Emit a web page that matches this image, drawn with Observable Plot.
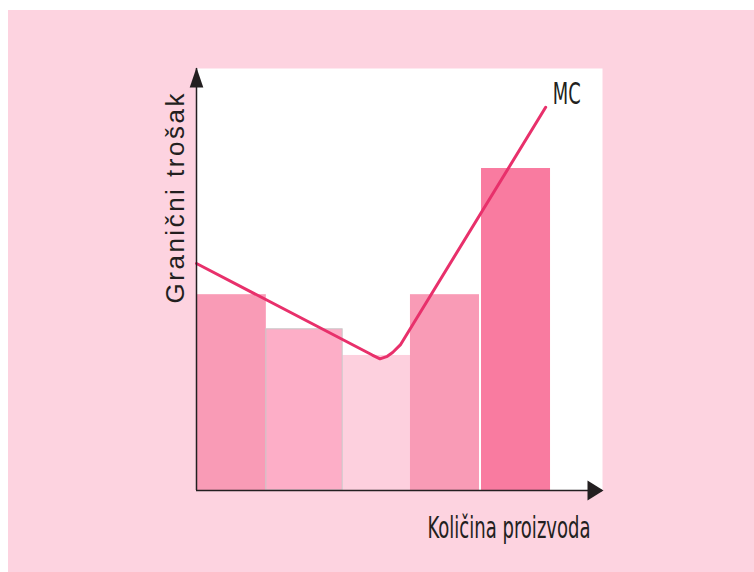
<!DOCTYPE html>
<html>
<head>
<meta charset="utf-8">
<script src="https://cdn.jsdelivr.net/npm/d3@7"></script>
<script src="https://cdn.jsdelivr.net/npm/@observablehq/plot@0.6"></script>
<style>
  html, body { margin: 0; padding: 0; background: #ffffff; }
  body { padding: 10px 0 0 8px; }
  #chart svg { display: block; }
</style>
</head>
<body>
<div id="chart"></div>
<script>
// Output blocks (quantity ranges) and their marginal cost
const categories = ["A", "B", "C", "D", "E"];
const barStart = [0, 1.72, 3.6, 5.27, 7.02];
const barEnd = [1.72, 3.6, 5.27, 6.97, 8.72];
const barCost = [4.64, 3.82, 3.2, 4.64, 7.63];

// Marginal cost curve (MC)
const mcQuantity = [0, 4.33, 4.52, 4.70, 4.83, 5.02, 8.60];
const mcCost = [5.38, 3.21, 3.12, 3.18, 3.27, 3.45, 9.08];

// Text
const yTitle = "Granični trošak";
const xTitle = "Količina proizvoda";
const curveLabel = "MC";

const barColors = ["#f99bb6", "#fdaec7", "#fdd0de", "#f99bb6", "#f97ba0"];
const ink = "#231f20";

const bars = categories.map((c, i) => ({c, x1: barStart[i], x2: barEnd[i], cost: barCost[i]}));
const mc = mcQuantity.map((q, i) => ({q, cost: mcCost[i]}));

// filled arrowheads for the axes (tip at the anchor point)
const arrowUp = {draw(ctx) { ctx.moveTo(0, -1); ctx.lineTo(6.8, 19); ctx.lineTo(-6.8, 19); ctx.closePath(); }};
const arrowRight = {draw(ctx) { ctx.moveTo(1, 0); ctx.lineTo(-15, -10); ctx.lineTo(-15, 10); ctx.closePath(); }};

const chart = Plot.plot({
  width: 746,
  height: 562,
  marginLeft: 188,
  marginRight: 152,
  marginTop: 58,
  marginBottom: 82,
  style: {background: "#fdd3e0", overflow: "visible"},
  x: {domain: [0, 10], axis: null},
  y: {domain: [0, 10], axis: null},
  color: {domain: categories, range: barColors},
  marks: [
    Plot.frame({fill: "white", stroke: "none"}),
    Plot.rectY(bars, {x1: "x1", x2: "x2", y: "cost", fill: "c"}),
    Plot.rectY(bars, {filter: d => d.c === "B", x1: "x1", x2: "x2", y: "cost", fill: "none", stroke: "#c9c6c7", strokeWidth: 1}),
    Plot.line(mc, {x: "q", y: "cost", stroke: "#e8306b", strokeWidth: 3, strokeLinejoin: "round"}),
    Plot.ruleX([0], {y1: 0, y2: 10, stroke: ink, strokeWidth: 1.5}),
    Plot.ruleY([0], {x1: 0, x2: 10, stroke: ink, strokeWidth: 1.5}),
    Plot.dot([0], {x: 0, y: 10, symbol: arrowUp, fill: ink, stroke: "none"}),
    Plot.dot([0], {x: 10, y: 0, symbol: arrowRight, fill: ink, stroke: "none"}),
    Plot.text([curveLabel], {
      x: mcQuantity[mcQuantity.length - 1], y: mcCost[mcCost.length - 1],
      textAnchor: "start", lineAnchor: "bottom", dx: 7, dy: -3,
      fontSize: 31, fontFamily: "'Liberation Sans Narrow', 'DejaVu Sans Condensed', sans-serif",
      fill: ink, className: "mc-label"
    }),
    Plot.text([xTitle], {
      frameAnchor: "bottom-right", textAnchor: "end", lineAnchor: "bottom",
      dx: -12, dy: 47,
      fontSize: 30, fontFamily: "'Liberation Sans Narrow', 'DejaVu Sans Condensed', sans-serif",
      fill: ink, className: "x-title"
    }),
    Plot.text([yTitle], {
      frameAnchor: "left", rotate: -90, textAnchor: "middle", lineAnchor: "bottom",
      dx: -13, dy: -81,
      fontSize: 26, fontFamily: "'Liberation Sans', Arial, sans-serif",
      fill: ink, className: "y-title"
    })
  ]
});

// condensed lettering for the labels
const svg = d3.select(chart);
svg.selectAll(".mc-label text").attr("textLength", 28).attr("lengthAdjust", "spacingAndGlyphs");
svg.selectAll(".x-title text").attr("textLength", 163).attr("lengthAdjust", "spacingAndGlyphs");
svg.selectAll(".y-title text").attr("textLength", 210).attr("lengthAdjust", "spacing");

document.getElementById("chart").append(chart);
</script>
</body>
</html>
